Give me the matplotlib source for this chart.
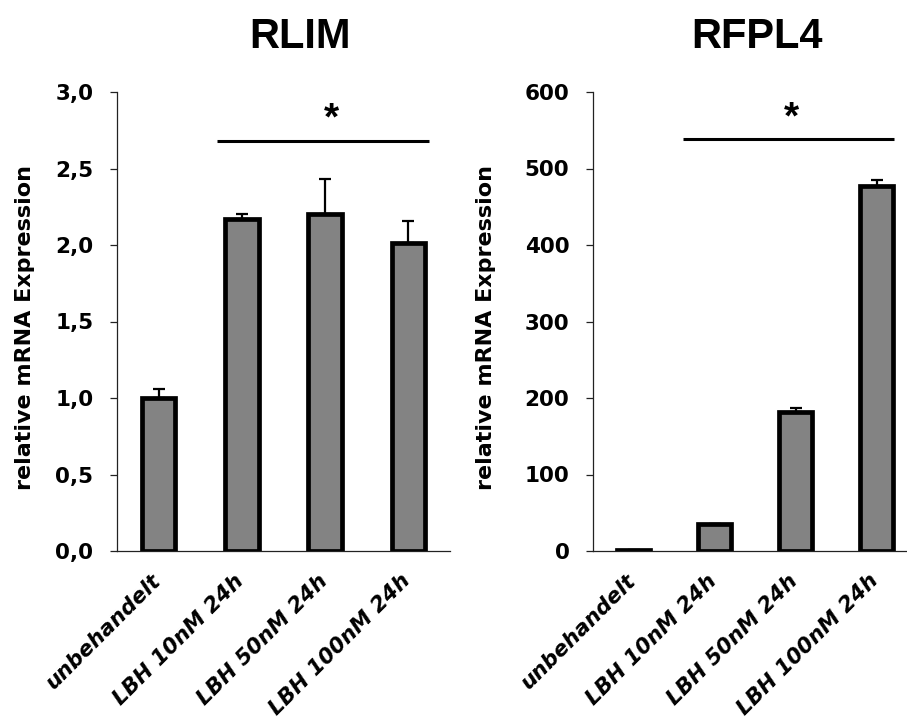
import matplotlib
matplotlib.use("Agg")
import matplotlib.pyplot as plt
from matplotlib.ticker import FuncFormatter
from matplotlib.transforms import ScaledTranslation

# Data
categories = ["unbehandelt", "LBH 10nM 24h", "LBH 50nM 24h", "LBH 100nM 24h"]

rlim_values = [1.00, 2.17, 2.20, 2.01]
rlim_err = [0.06, 0.03, 0.23, 0.15]
rlim_ticks = [0.0, 0.5, 1.0, 1.5, 2.0, 2.5, 3.0]

rfpl4_values = [1.0, 35.0, 182.0, 477.0]
rfpl4_err = [0.0, 0.0, 5.0, 8.0]
rfpl4_ticks = [0, 100, 200, 300, 400, 500, 600]

# significance bar: (x start, x end, y, star x, star y)
rlim_sig = (0.70, 3.25, 2.68, 2.08, 2.82)
rfpl4_sig = (0.615, 3.22, 538, 1.95, 565)

W, H = 907, 722
fig = plt.figure(figsize=(W / 100, H / 100), dpi=100)

label_font = "DejaVu Sans"
title_font = "Liberation Sans"


def panel(rect, values, err, ticks, fmt, sig, title, title_x, ylab_x):
    ax = fig.add_axes(rect)
    x = list(range(len(categories)))
    ax.bar(x, values, width=0.40, color="#838383", edgecolor="black",
           linewidth=3.4, zorder=3)
    ax.errorbar(x, values, yerr=[[0] * len(err), err], fmt="none",
                ecolor="black", elinewidth=1.6, capsize=4.5, capthick=1.6,
                zorder=2)
    ax.set_xlim(-0.5, 3.5)
    ax.set_ylim(ticks[0], ticks[-1])
    ax.set_yticks(ticks)
    ax.yaxis.set_major_formatter(FuncFormatter(fmt))
    for s in ("top", "right"):
        ax.spines[s].set_visible(False)
    for s in ("left", "bottom"):
        ax.spines[s].set_linewidth(0.9)
        ax.spines[s].set_color("#222222")
    ax.spines["bottom"].set_zorder(4)
    ax.tick_params(axis="y", length=5, width=0.9, color="#222222", pad=12,
                   labelsize=15.5)
    ax.tick_params(axis="x", length=0, pad=14, labelsize=15.5)
    ax.set_xticks(x)
    ax.set_xticklabels(categories, rotation=45, ha="right")
    offset = ScaledTranslation(6 / 100, 0, fig.dpi_scale_trans)
    for lab in ax.get_xticklabels():
        lab.set_fontfamily(label_font)
        lab.set_fontweight("bold")
        lab.set_fontstyle("italic")
        lab.set_transform(lab.get_transform() + offset)
    for lab in ax.get_yticklabels():
        lab.set_fontfamily(label_font)
        lab.set_fontweight("bold")

    ax.set_ylabel("relative mRNA Expression", fontsize=16, fontweight="bold",
                  family=label_font, va="center")
    ax.yaxis.set_label_coords(ylab_x, 0.486)

    x0, x1, ys, sx, sy = sig
    ax.plot([x0, x1], [ys, ys], color="black", linewidth=2.2,
            solid_capstyle="butt", clip_on=False, zorder=5)
    ax.text(sx, sy, "*", ha="center", va="center", fontsize=28,
            fontweight="bold", family=title_font, zorder=5)

    fig.text(title_x, 1 - 48 / H, title, ha="center", va="baseline",
             fontsize=30, fontweight="bold", family=title_font)
    return ax


left_rect = [117 / W, 1 - 551 / H, 333 / W, 459 / H]
right_rect = [593 / W, 1 - 551 / H, 324 / W, 459 / H]

panel(left_rect, rlim_values, rlim_err, rlim_ticks,
      lambda v, p: f"{v:.1f}".replace(".", ","), rlim_sig, "RLIM",
      300 / W, -0.276)
panel(right_rect, rfpl4_values, rfpl4_err, rfpl4_ticks,
      lambda v, p: f"{v:.0f}", rfpl4_sig, "RFPL4", 757 / W, -0.330)

fig.savefig("out.png", dpi=100, facecolor="white")
